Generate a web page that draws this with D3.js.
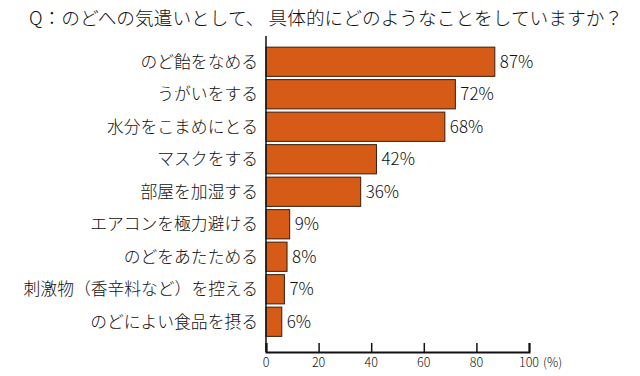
<!DOCTYPE html>
<html lang="ja">
<head>
<meta charset="UTF-8">
<title>のどへの気遣い</title>
<script src="https://cdn.jsdelivr.net/npm/d3@7"></script>
<style>
    body { margin: 0; background: #fff; }
    svg { display: block; font-family: "Noto Sans CJK JP", sans-serif; font-weight: 300; }
</style>
</head>
<body>
<div id="chart"></div>
<script>
    // Chart data
    const categories = [
        "のど飴をなめる", "うがいをする", "水分をこまめにとる", "マスクをする",
        "部屋を加湿する", "エアコンを極力避ける", "のどをあたためる",
        "刺激物（香辛料など）を控える", "のどによい食品を摂る"
    ];
    const values = [87, 72, 68, 42, 36, 9, 8, 7, 6];
    const xTicks = [0, 20, 40, 60, 80, 100];
    const title = "Q：のどへの気遣いとして、 具体的にどのようなことをしていますか？";

    const width = 640, height = 376;
    const x0 = 266, x1 = 529, axisY = 352;

    const svg = d3.select("#chart").append("svg")
        .attr("width", width)
        .attr("height", height);

    const x = d3.scaleLinear().domain([0, 100]).range([x0, x1]);
    const y = d3.scaleBand().domain(categories)
        .range([45.5, 338])
        .paddingInner(0.1)
        .paddingOuter(0.05);

    // Title
    svg.append("text")
        .attr("x", 326)
        .attr("y", 25)
        .attr("text-anchor", "middle")
        .attr("font-size", 18.7)
        .attr("fill", "#111")
        .text(title);

    // Bars
    svg.append("g")
        .selectAll("rect")
        .data(values)
        .join("rect")
        .attr("x", x(0))
        .attr("y", (d, i) => y(categories[i]))
        .attr("width", d => x(d) - x(0))
        .attr("height", y.bandwidth())
        .attr("fill", "#d55b17")
        .attr("stroke", "#3b1c0c")
        .attr("stroke-width", 1);

    // Value labels
    svg.append("g")
        .selectAll("text")
        .data(values)
        .join("text")
        .attr("x", d => x(d) + 5)
        .attr("y", (d, i) => y(categories[i]) + y.bandwidth() / 2)
        .attr("dy", "0.35em")
        .attr("font-size", 17)
        .attr("fill", "#111")
        .text(d => d + "%");

    // Category labels
    svg.append("g")
        .selectAll("text")
        .data(categories)
        .join("text")
        .attr("x", 258)
        .attr("y", d => y(d) + y.bandwidth() / 2)
        .attr("dy", "0.35em")
        .attr("text-anchor", "end")
        .attr("font-size", 16.8)
        .attr("fill", "#111")
        .text(d => d);

    // Y axis line
    svg.append("line")
        .attr("x1", x0).attr("x2", x0)
        .attr("y1", 36).attr("y2", axisY)
        .attr("stroke", "#111")
        .attr("stroke-width", 1.5);

    // X axis (ticks point up)
    const xAxis = svg.append("g")
        .attr("transform", `translate(0,${axisY})`)
        .call(d3.axisTop(x).tickValues(xTicks).tickSize(9).tickFormat(""));
    xAxis.select(".domain").attr("stroke", "#111").attr("stroke-width", 2);
    xAxis.selectAll(".tick line").attr("stroke", "#111").attr("stroke-width", 1.5);

    svg.append("g")
        .selectAll("text")
        .data(xTicks)
        .join("text")
        .attr("x", d => x(d))
        .attr("y", axisY + 15)
        .attr("text-anchor", "middle")
        .attr("font-size", 12.5)
        .attr("fill", "#111")
        .text(d => d);

    svg.append("text")
        .attr("x", x(100) + 14)
        .attr("y", axisY + 15)
        .attr("font-size", 12.5)
        .attr("fill", "#111")
        .text("(%)");
</script>
</body>
</html>
